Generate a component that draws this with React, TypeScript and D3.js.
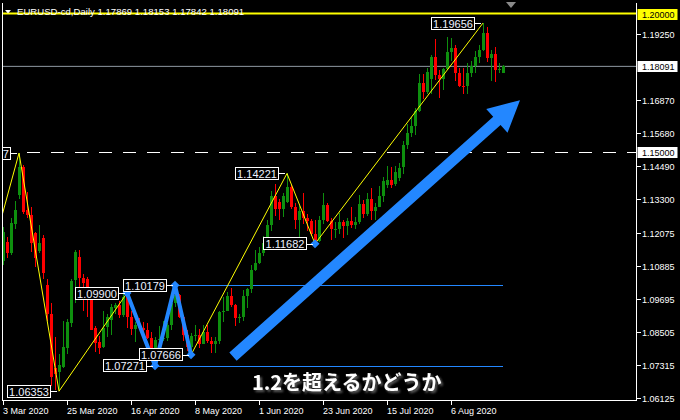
import React from "react";
import * as d3 from "d3";

// EURUSD daily bars, 3 Mar 2020 – 25 Aug 2020 (one entry per trading day)
const opens = [
  1.1105, 1.1175, 1.1136, 1.124, 1.1345, 1.1445, 1.129, 1.1272, 1.1207, 1.1143,
  1.1189, 1.102, 1.0915, 1.072, 1.0706, 1.0724, 1.0793, 1.0883, 1.1038, 1.1121,
  1.1045, 1.104, 1.0966, 1.0865, 1.0814, 1.0796, 1.0868, 1.0894, 1.0937, 1.0946,
  1.0912, 1.0975, 1.0905, 1.086, 1.0875, 1.0862, 1.0855, 1.0828, 1.0776, 1.082,
  1.0825, 1.0827, 1.0875, 1.0955, 1.0982, 1.0905, 1.0838, 1.0794, 1.0834, 1.084,
  1.0805, 1.085, 1.0815, 1.0805, 1.0818, 1.092, 1.0925, 1.098, 1.0945, 1.09,
  1.0902, 1.098, 1.1005, 1.1075, 1.11, 1.1135, 1.117, 1.1235, 1.134, 1.1318,
  1.1292, 1.132, 1.1372, 1.13, 1.1255, 1.1285, 1.1262, 1.125, 1.1205, 1.1178,
  1.1255, 1.1307, 1.125, 1.122, 1.1222, 1.1245, 1.1232, 1.125, 1.1237, 1.1245,
  1.131, 1.1275, 1.133, 1.1285, 1.13, 1.134, 1.138, 1.1398, 1.1385, 1.1406,
  1.1445, 1.1525, 1.157, 1.1595, 1.1648, 1.175, 1.1715, 1.1765, 1.1842, 1.1778,
  1.1762, 1.18, 1.186, 1.1875, 1.1785, 1.1738, 1.1737, 1.1785, 1.1812, 1.1842,
  1.187, 1.193, 1.1838, 1.1855, 1.1795, 1.17869,
];
const highs = [
  1.1228, 1.1192, 1.1262, 1.1322, 1.14957, 1.1452, 1.1355, 1.13, 1.1212, 1.1236,
  1.12, 1.104, 1.0955, 1.083, 1.0768, 1.089, 1.0895, 1.104, 1.1147, 1.1145,
  1.106, 1.1048, 1.099, 1.087, 1.0835, 1.0926, 1.0915, 1.0952, 1.0955, 1.096,
  1.0985, 1.099, 1.0925, 1.0885, 1.09, 1.0885, 1.088, 1.085, 1.083, 1.087,
  1.089, 1.088, 1.0975, 1.10179, 1.0985, 1.091, 1.0855, 1.0845, 1.0875, 1.086,
  1.0875, 1.0875, 1.083, 1.083, 1.0925, 1.0975, 1.0992, 1.1008, 1.095, 1.0915,
  1.1, 1.101, 1.109, 1.1145, 1.1155, 1.1195, 1.1255, 1.136, 1.1385, 1.133,
  1.135, 1.14221, 1.138, 1.1315, 1.1305, 1.135, 1.1275, 1.1256, 1.1255, 1.1268,
  1.135, 1.1315, 1.126, 1.1245, 1.128, 1.1255, 1.126, 1.13, 1.1265, 1.1345,
  1.1325, 1.135, 1.137, 1.1315, 1.1375, 1.141, 1.145, 1.1445, 1.145, 1.146,
  1.154, 1.16, 1.1625, 1.166, 1.178, 1.178, 1.1805, 1.185, 1.1908, 1.1795,
  1.1805, 1.1916, 1.1912, 1.1885, 1.1805, 1.1805, 1.182, 1.183, 1.1865, 1.1885,
  1.19656, 1.195, 1.187, 1.188, 1.1822, 1.18153,
];
const lows = [
  1.109, 1.1118, 1.1128, 1.122, 1.133, 1.1275, 1.1262, 1.1139, 1.1085, 1.1135,
  1.104, 1.089, 1.0655, 1.0638, 1.06353, 1.072, 1.0768, 1.0868, 1.0955, 1.0985,
  1.0925, 1.0905, 1.0855, 1.0778, 1.0768, 1.079, 1.083, 1.084, 1.0915, 1.09,
  1.0905, 1.0865, 1.084, 1.0812, 1.0855, 1.082, 1.0825, 1.0755, 1.07271, 1.0815,
  1.0815, 1.0815, 1.0855, 1.094, 1.09, 1.0815, 1.0782, 1.07666, 1.0815, 1.0793,
  1.0805, 1.081, 1.0775, 1.0775, 1.0806, 1.0885, 1.0925, 1.094, 1.087, 1.088,
  1.089, 1.0935, 1.099, 1.107, 1.1095, 1.1125, 1.1165, 1.1215, 1.127, 1.1255,
  1.1265, 1.1315, 1.1295, 1.122, 1.1185, 1.124, 1.1215, 1.1195, 1.11682, 1.1175,
  1.124, 1.1245, 1.118, 1.119, 1.1205, 1.119, 1.12, 1.1225, 1.122, 1.124,
  1.126, 1.127, 1.1255, 1.1255, 1.13, 1.132, 1.137, 1.137, 1.1375, 1.1395,
  1.142, 1.151, 1.1555, 1.156, 1.1645, 1.169, 1.171, 1.171, 1.176, 1.1695,
  1.1725, 1.1795, 1.183, 1.1755, 1.1735, 1.171, 1.171, 1.177, 1.1785, 1.182,
  1.1865, 1.1825, 1.1755, 1.1752, 1.1786, 1.17842,
];
const closes = [
  1.1212, 1.1136, 1.1243, 1.129, 1.1445, 1.1283, 1.1272, 1.1171, 1.1117, 1.1171,
  1.1063, 1.0915, 1.0688, 1.0696, 1.0731, 1.0796, 1.0886, 1.1035, 1.114, 1.1045,
  1.1027, 1.0966, 1.0858, 1.0811, 1.0793, 1.0865, 1.0904, 1.0941, 1.0946, 1.0912,
  1.0975, 1.0905, 1.086, 1.0875, 1.0862, 1.0855, 1.0828, 1.0776, 1.082, 1.0825,
  1.0827, 1.0875, 1.0955, 1.0982, 1.0905, 1.0838, 1.0794, 1.0834, 1.084, 1.0805,
  1.085, 1.0815, 1.0805, 1.0818, 1.092, 1.0925, 1.098, 1.0945, 1.09, 1.0902,
  1.098, 1.1005, 1.1075, 1.11, 1.1135, 1.117, 1.1235, 1.134, 1.1295, 1.1292,
  1.134, 1.1372, 1.13, 1.1255, 1.1285, 1.1262, 1.125, 1.1205, 1.1178, 1.1255,
  1.1307, 1.125, 1.122, 1.1222, 1.1245, 1.1232, 1.125, 1.1237, 1.1245, 1.131,
  1.1275, 1.133, 1.1285, 1.13, 1.134, 1.1395, 1.1398, 1.138, 1.1428, 1.1442,
  1.1525, 1.157, 1.1595, 1.1648, 1.175, 1.1715, 1.179, 1.1842, 1.1778, 1.1762,
  1.18, 1.186, 1.1875, 1.1785, 1.1738, 1.1737, 1.1785, 1.1812, 1.1842, 1.187,
  1.193, 1.1838, 1.1855, 1.1795, 1.1798, 1.18091,
];

// Price axis and date axis
const priceTicks = [1.1925, 1.1687, 1.1568, 1.1449, 1.133, 1.12075, 1.10885, 1.09695, 1.08505, 1.07315, 1.06125];
const dateTickBars = [0, 16, 32, 48, 64, 80, 96, 112];
const dateTickLabels = ["3 Mar 2020", "25 Mar 2020", "16 Apr 2020", "8 May 2020", "1 Jun 2020", "23 Jun 2020", "15 Jul 2020", "6 Aug 2020"];

// ZigZag swing points (bar index, price); the first one lies before the visible range
const swingBars = [-1, 4, 14, 31, 38, 43, 47, 71, 78, 120];
const swingPrices = [1.123, 1.14957, 1.06353, 1.099, 1.07271, 1.10179, 1.07666, 1.14221, 1.11682, 1.19656];

// Double-bottom pattern legs
const patternBars = [31, 38, 43, 47];
const patternPrices = [1.099, 1.07271, 1.10179, 1.07666];
const patternLevelBars = [43, 38];
const extraMarkerBars = [78];
const extraMarkerPrices = [1.11682];

// Horizontal levels
const roundLevel = 1.2;
const midLevel = 1.15;

// Forecast arrow (bar index, price) start -> tip
const arrowBars = [57.5, 129.25];
const arrowPrices = [1.076, 1.1687];

const symbolTitle = "EURUSD-cd,Daily";
const caption = "1.2を超えるかどうか";

const GREEN = "#0e8f0e";
const RED = "#ff0000";
const BLUE = "#2387ff";
const FONT = "'Liberation Sans', Arial, sans-serif";

export default function App() {
  const W = 680;
  const H = 420;
  const left = 2.5;
  const right = 636.5;
  const top = 2.5;
  const bottom = 400.5;
  const n = closes.length;
  const fmt = d3.format(".5f");

  const x = d3.scaleLinear().domain([0, 1]).range([3, 7]);
  const y = d3.scaleLinear().domain([1.06125, 1.1925]).range([397.5, 34.3]);
  const lastBar = n - 1;
  const lastClose = closes[lastBar];

  const swingLine = d3
    .line<number>()
    .x((_, i) => x(swingBars[i]))
    .y((p) => y(p));
  const patternLine = d3
    .line<number>()
    .x((_, i) => x(patternBars[i]))
    .y((p) => y(p));

  // arrow polygon
  const sx = x(arrowBars[0]);
  const sy = y(arrowPrices[0]);
  const tx = x(arrowBars[1]);
  const ty = y(arrowPrices[1]);
  const len = Math.hypot(tx - sx, ty - sy);
  const ux = (tx - sx) / len;
  const uy = (ty - sy) / len;
  const nx = -uy;
  const ny = ux;
  const headL = 31;
  const headW = 16;
  const shaftW = 5.5;
  const bx = tx - ux * headL;
  const by = ty - uy * headL;
  const arrowPts = [
    [sx + nx * shaftW, sy + ny * shaftW],
    [bx + nx * shaftW, by + ny * shaftW],
    [bx + nx * headW, by + ny * headW],
    [tx, ty],
    [bx - nx * headW, by - ny * headW],
    [bx - nx * shaftW, by - ny * shaftW],
    [sx - nx * shaftW, sy - ny * shaftW],
  ]
    .map((p) => p.join(","))
    .join(" ");

  const diamond = (cx: number, cy: number, r: number) =>
    `${cx},${cy - r} ${cx + r},${cy} ${cx},${cy + r} ${cx - r},${cy}`;

  const boxW = 43;
  const boxH = 13;

  const axisBoxes = [
    { v: roundLevel, fill: "#ffff00" },
    { v: lastClose, fill: "#ffffff" },
    { v: midLevel, fill: "#ffffff" },
  ];

  return (
    <svg
      width={W}
      height={H}
      style={{ position: "absolute", left: 0, top: 0, background: "#000", display: "block" }}
      fontFamily={FONT}
    >
      <defs>
        <clipPath id="plotClip">
          <rect x={left} y={top} width={right - left} height={bottom - top} />
        </clipPath>
        <filter id="captionShadow" x="-10%" y="-30%" width="120%" height="160%">
          <feDropShadow dx="2" dy="2" stdDeviation="1" floodColor="#5a5a5a" floodOpacity="1" />
        </filter>
      </defs>
      <rect x={0} y={0} width={W} height={H} fill="#000" />

      <g clipPath="url(#plotClip)">
        {/* horizontal levels */}
        <line x1={left} x2={right} y1={y(lastClose)} y2={y(lastClose)} stroke="#8f99a3" strokeWidth={1} />
        <line
          x1={x(6)}
          x2={right}
          y1={Math.round(y(midLevel)) + 0.5}
          y2={Math.round(y(midLevel)) + 0.5}
          stroke="#ffffff"
          strokeWidth={1}
          strokeDasharray="13 11"
        />
        {patternLevelBars.map((b, i) => {
          const p = i === 0 ? patternPrices[2] : patternPrices[1];
          const yy = Math.round(y(p)) + 0.5;
          return <line key={b} x1={x(b)} x2={x(lastBar)} y1={yy} y2={yy} stroke={BLUE} strokeWidth={1} />;
        })}

        {/* candles */}
        <g shapeRendering="crispEdges">
          {closes.map((c, i) => {
            const o = opens[i];
            const cx = Math.round(x(i));
            const col = c >= o ? GREEN : RED;
            const yt = y(Math.max(o, c));
            const yb = y(Math.min(o, c));
            return (
              <g key={i}>
                <line x1={cx + 0.5} x2={cx + 0.5} y1={y(highs[i])} y2={y(lows[i])} stroke={col} strokeWidth={1} />
                <rect x={cx - 1} y={yt} width={3} height={Math.max(1, yb - yt)} fill={col} />
              </g>
            );
          })}
        </g>

        {/* zigzag */}
        <path d={swingLine(swingPrices) || ""} fill="none" stroke="#ffff00" strokeWidth={1} />
        <path d={patternLine(patternPrices) || ""} fill="none" stroke={BLUE} strokeWidth={4} strokeLinejoin="round" />
        {patternPrices.map((p, i) => (
          <polygon key={i} points={diamond(x(patternBars[i]), y(p), 4.5)} fill={BLUE} />
        ))}
        {extraMarkerPrices.map((p, i) => (
          <polygon key={i} points={diamond(x(extraMarkerBars[i]), y(p), 4.5)} fill={BLUE} />
        ))}

        {/* swing price labels (the leftmost one runs past the plot edge) */}
        {swingPrices.slice(1).map((p, k) => {
          const b = swingBars[k + 1];
          const px = x(b);
          const py = y(p);
          const bxr = px - 9;
          const bxl = bxr - boxW;
          const byt = Math.round(py - boxH / 2) + 0.5;
          return (
            <g key={k}>
              <line x1={bxr} x2={px - 2} y1={Math.round(py) + 0.5} y2={Math.round(py) + 0.5} stroke="#ffffff" strokeWidth={1} />
              <rect x={bxl + 0.5} y={byt} width={boxW} height={boxH - 1} fill="#000" stroke="#ffffff" strokeWidth={1} />
              <text x={bxl + boxW / 2 + 0.5} y={byt + 10} fontSize={11} fill="#eef2ff" textAnchor="middle">
                {fmt(p)}
              </text>
            </g>
          );
        })}

        {/* forecast arrow */}
        <polygon points={arrowPts} fill={BLUE} />
      </g>

      {/* round-number level */}
      <line x1={left} x2={right} y1={y(roundLevel)} y2={y(roundLevel)} stroke="#ffff00" strokeWidth={2} />

      {/* chart header */}
      <polygon points="5,10 11,10 8,13.5" fill="#ffffff" />
      <text x={17} y={14.5} fontSize={9.6} fill="#ffffff">
        {`${symbolTitle}  ${fmt(opens[lastBar])} ${fmt(highs[lastBar])} ${fmt(lows[lastBar])} ${fmt(lastClose)}`}
      </text>
      <polygon points="506,2 516,2 511,8" fill="#8a8a8a" />

      {/* frame */}
      <g shapeRendering="crispEdges" stroke="#ffffff" strokeWidth={1} fill="none">
        <line x1={left} x2={left} y1={top} y2={bottom} />
        <line x1={right} x2={right} y1={top} y2={bottom} />
        <line x1={left} x2={right} y1={bottom} y2={bottom} />
      </g>

      {/* price axis */}
      <g fontSize={9}>
        {priceTicks.map((t) => {
          const yy = Math.round(y(t)) + 0.5;
          return (
            <g key={t}>
              <line x1={right} x2={right + 4} y1={yy} y2={yy} stroke="#ffffff" shapeRendering="crispEdges" />
              <text x={642} y={yy + 3.5} fill="#ffffff">
                {fmt(t)}
              </text>
            </g>
          );
        })}
        {axisBoxes.map((b) => {
          const yy = Math.round(y(b.v));
          return (
            <g key={b.v}>
              <rect x={637.5} y={yy - 5} width={40} height={11} fill={b.fill} />
              <text x={642} y={yy + 4} fill="#000000">
                {fmt(b.v)}
              </text>
            </g>
          );
        })}
      </g>

      {/* date axis */}
      <g fontSize={9}>
        {dateTickBars.map((b, i) => {
          const xx = Math.round(x(b)) + 0.5;
          return (
            <g key={b}>
              <line x1={xx} x2={xx} y1={bottom} y2={bottom + 4} stroke="#ffffff" shapeRendering="crispEdges" />
              <text x={xx - 0.5} y={414} fill="#ffffff">
                {dateTickLabels[i]}
              </text>
            </g>
          );
        })}
      </g>

      {/* caption */}
      <text
        x={252}
        y={390}
        fontSize={20}
        fontWeight="bold"
        fill="#ffffff"
        fontFamily="'Noto Sans CJK JP', sans-serif"
        filter="url(#captionShadow)"
      >
        {caption}
      </text>
    </svg>
  );
}
